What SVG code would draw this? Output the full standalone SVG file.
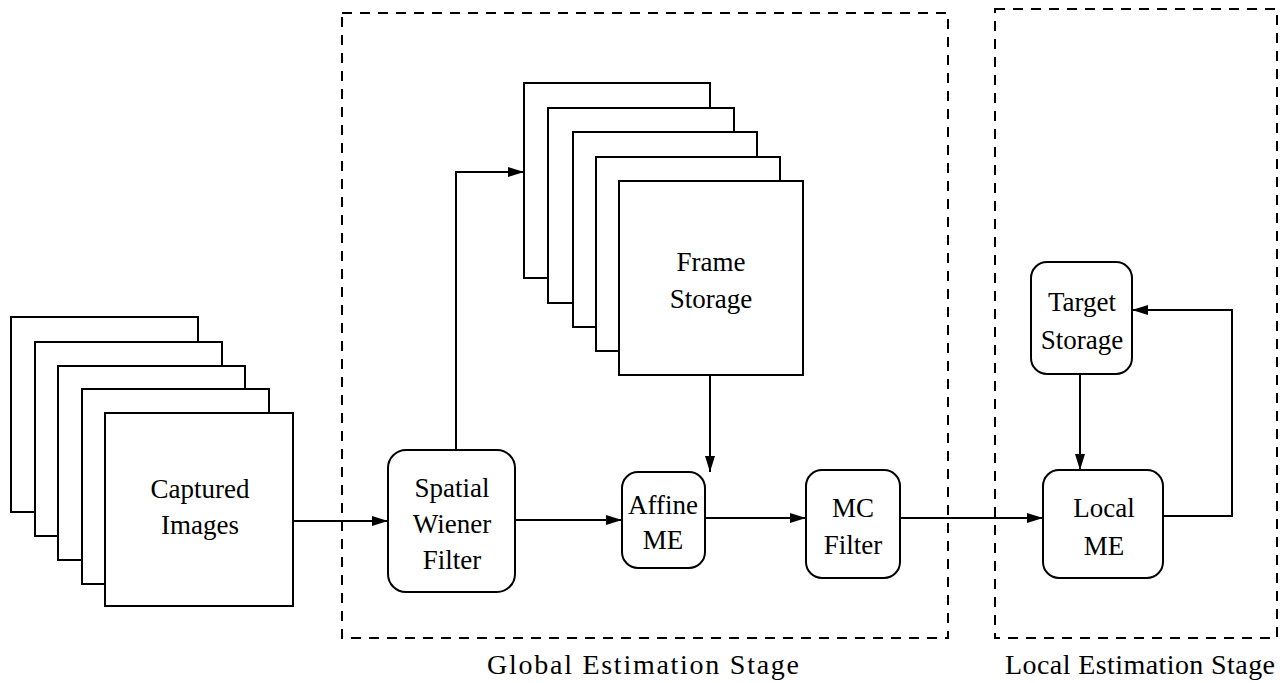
<svg xmlns="http://www.w3.org/2000/svg" width="1283" height="683" viewBox="0 0 1283 683">
<style>
.bg{fill:#fff}
.frame{fill:#fff;stroke:#000;stroke-width:2}
.node{fill:#fff;stroke:#000;stroke-width:2}
.stage{fill:none;stroke:#000;stroke-width:2;stroke-dasharray:10 8}
.conn{fill:none;stroke:#000;stroke-width:2}
text{font-family:"Liberation Serif","DejaVu Serif",serif;font-size:27px;fill:#000;text-anchor:middle}
.lbl{font-size:28px}
</style>
<defs>
<marker id="arr" viewBox="0 0 16 10" refX="16" refY="5" markerWidth="16" markerHeight="10" markerUnits="userSpaceOnUse" orient="auto">
<path d="M0,0 L16,5 L0,10 Z" fill="#000"/>
</marker>
</defs>
<rect class="bg" x="0" y="0" width="1283" height="683"/>

<g id="global-stage">
<rect class="stage" x="342" y="13" width="606" height="625"/>
<text class="lbl" x="643" y="674" textLength="312" lengthAdjust="spacing">Global Estimation Stage</text>
</g>
<g id="local-stage">
<rect class="stage" x="995" y="9" width="282" height="629"/>
<text class="lbl" x="1140" y="674" textLength="270" lengthAdjust="spacing">Local Estimation Stage</text>
</g>

<g id="captured-images">
<rect class="frame" x="11" y="317" width="187" height="195"/>
<rect class="frame" x="35" y="342" width="187" height="194"/>
<rect class="frame" x="58" y="366" width="187" height="194"/>
<rect class="frame" x="82" y="389" width="187" height="195"/>
<rect class="frame" x="105" y="413" width="188" height="193"/>
<text x="200" y="498">Captured</text>
<text x="200" y="534">Images</text>
</g>

<g id="frame-storage">
<rect class="frame" x="524" y="83" width="186" height="195"/>
<rect class="frame" x="548" y="108" width="186" height="195"/>
<rect class="frame" x="573" y="132" width="184" height="195"/>
<rect class="frame" x="596" y="157" width="184" height="194"/>
<rect class="frame" x="619" y="181" width="184" height="194"/>
<text x="711" y="271">Frame</text>
<text x="711" y="308">Storage</text>
</g>

<g id="spatial-wiener-filter">
<rect class="node" x="388" y="450" width="127" height="142" rx="18"/>
<text x="452" y="497">Spatial</text>
<text x="452" y="533">Wiener</text>
<text x="452" y="569">Filter</text>
</g>

<g id="affine-me">
<rect class="node" x="622" y="472" width="83" height="96" rx="16"/>
<text x="663" y="514">Affine</text>
<text x="663" y="549">ME</text>
</g>

<g id="mc-filter">
<rect class="node" x="806" y="470" width="94" height="108" rx="16"/>
<text x="853" y="517">MC</text>
<text x="853" y="554">Filter</text>
</g>

<g id="target-storage">
<rect class="node" x="1031" y="262" width="101" height="112" rx="16"/>
<text x="1082" y="311">Target</text>
<text x="1082" y="349">Storage</text>
</g>

<g id="local-me">
<rect class="node" x="1043" y="470" width="120" height="108" rx="16"/>
<text x="1104" y="517">Local</text>
<text x="1104" y="555">ME</text>
</g>

<g id="connectors">
<path class="conn" d="M293,521 L388,521" marker-end="url(#arr)"/>
<path class="conn" d="M456,450 L456,172 L524,172" marker-end="url(#arr)"/>
<path class="conn" d="M515,520 L622,520" marker-end="url(#arr)"/>
<path class="conn" d="M710,375 L710,472" marker-end="url(#arr)"/>
<path class="conn" d="M705,518 L806,518" marker-end="url(#arr)"/>
<path class="conn" d="M900,518 L1043,518" marker-end="url(#arr)"/>
<path class="conn" d="M1080,374 L1080,470" marker-end="url(#arr)"/>
<path class="conn" d="M1163,516 L1232,516 L1232,310 L1132,310" marker-end="url(#arr)"/>
</g>
</svg>
